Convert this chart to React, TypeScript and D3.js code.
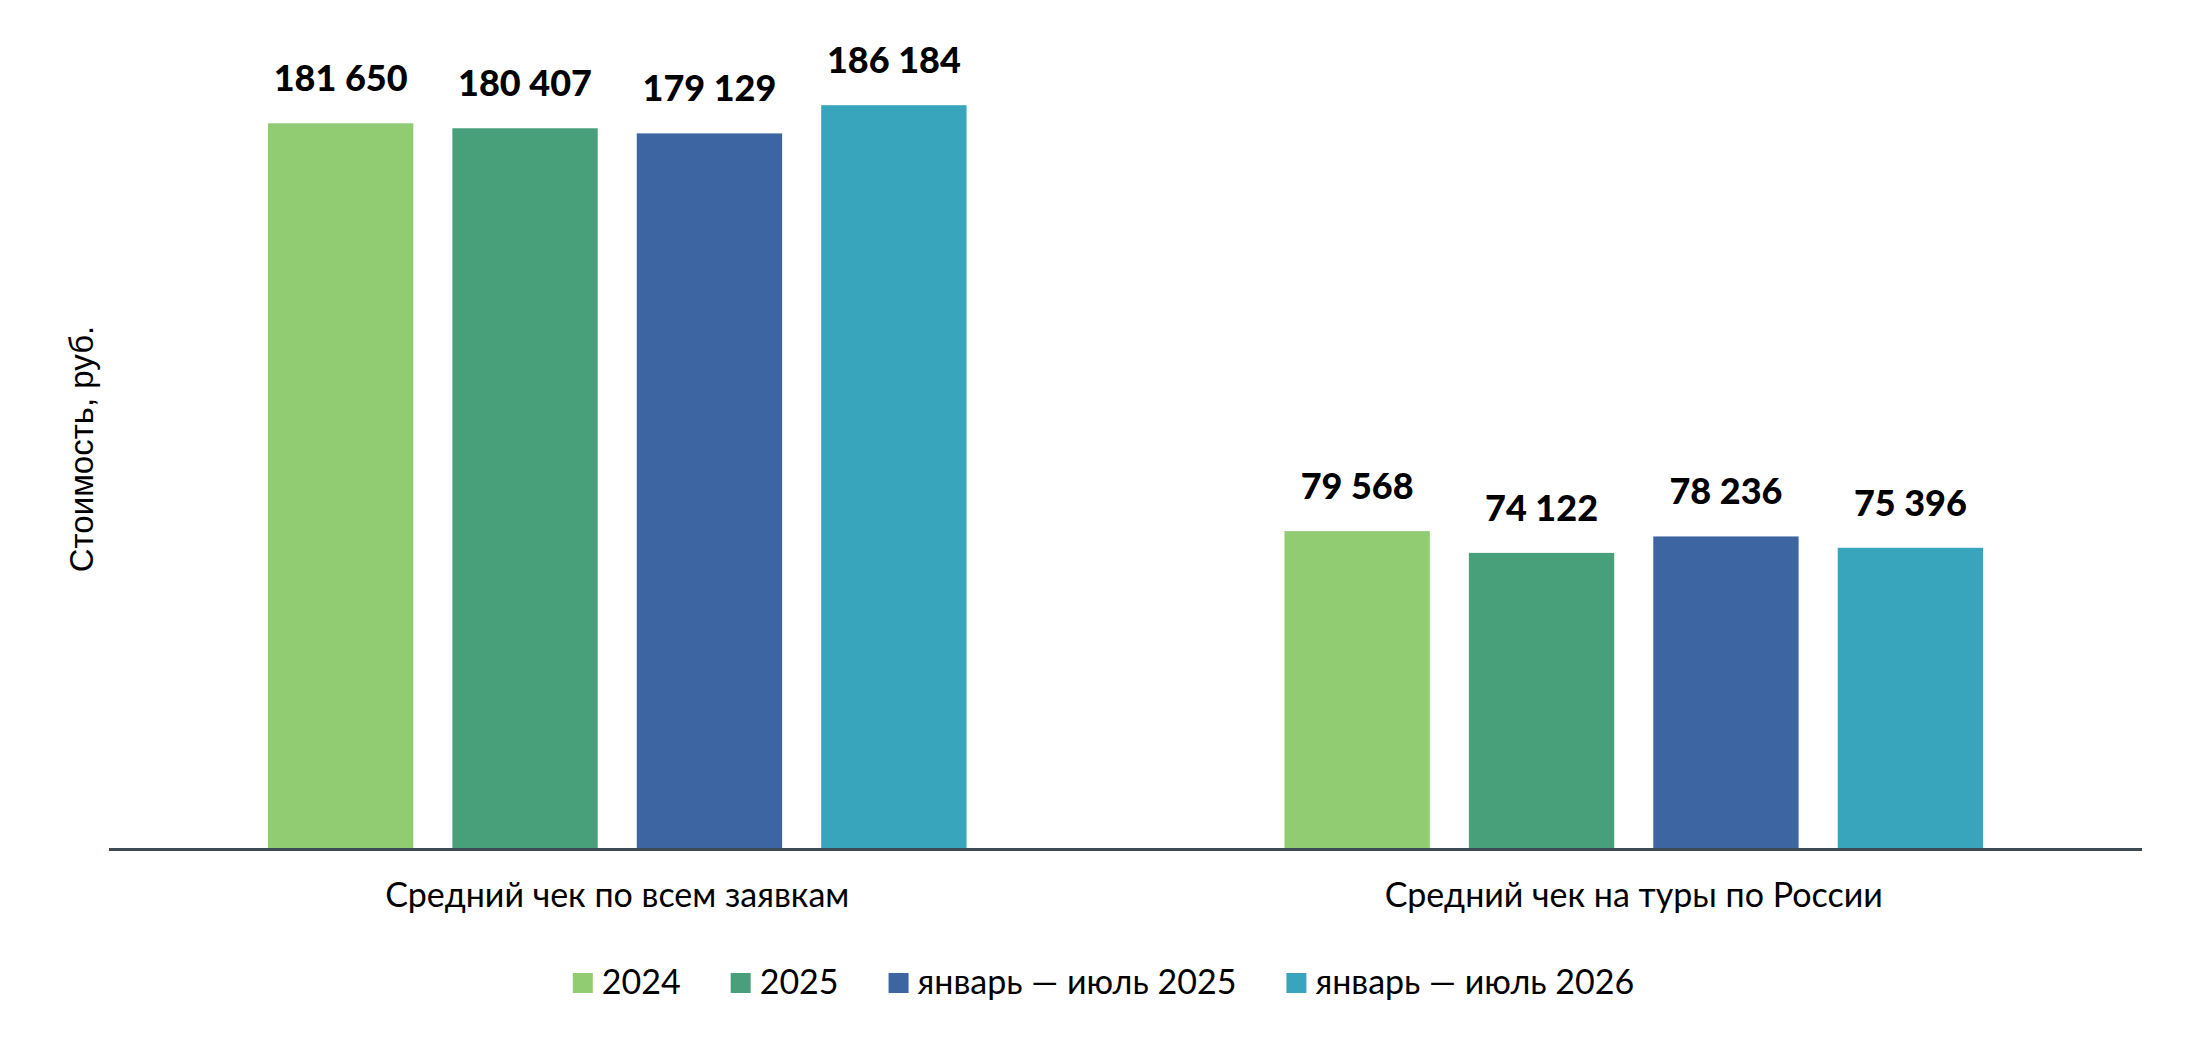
import { useEffect, useRef } from "react";
import * as d3 from "d3";

// ── Data ──────────────────────────────────────────────────────────────────────

const CATEGORIES = ["Средний чек по всем заявкам", "Средний чек на туры по России"];
const SERIES = ["2024", "2025", "январь — июль 2025", "январь — июль 2026"];
const VALUES_ALL = [181650, 180407, 179129, 186184];
const VALUES_RUSSIA = [79568, 74122, 78236, 75396];
const COLORS = ["#92CC72", "#47A07A", "#3D65A1", "#38A5BC"];
const Y_TITLE = "Стоимость, руб.";

const TABLE = [VALUES_ALL, VALUES_RUSSIA];

// ── Layout ────────────────────────────────────────────────────────────────────

const W = 2192;
const H = 1046;
const PLOT = { left: 109, right: 2142, top: 50, bottom: 849 };
const FONT = "Lato, 'Open Sans', sans-serif";

const fmt = d3
  .formatLocale({ decimal: ",", thousands: " ", grouping: [3], currency: ["", ""] })
  .format(",d");

export default function App() {
  const legendRef = useRef<SVGGElement>(null);

  const x0 = d3.scaleBand<string>().domain(CATEGORIES).range([PLOT.left, PLOT.right]);
  const x1 = d3
    .scaleBand<string>()
    .domain(SERIES)
    .range([0, x0.bandwidth()])
    .paddingInner(0.212)
    .paddingOuter(0.862);
  const y = d3.scaleLinear().domain([0, 200000]).range([PLOT.bottom, PLOT.top]);

  /** Legend laid out with measured text widths */
  useEffect(() => {
    if (!legendRef.current) return;
    const g = d3.select(legendRef.current);
    g.selectAll("*").remove();
    const items = g
      .selectAll<SVGGElement, string>("g")
      .data(SERIES)
      .join("g");
    items
      .append("rect")
      .attr("width", 20)
      .attr("height", 20)
      .attr("y", -21)
      .attr("fill", (_, i) => COLORS[i]);
    items
      .append("text")
      .attr("x", 29)
      .attr("font-family", FONT)
      .attr("font-size", 34)
      .attr("fill", "#000")
      .text((d) => d);
    let cx = 0;
    items.each(function () {
      const t = d3.select(this).select<SVGTextElement>("text").node()!;
      d3.select(this).attr("transform", `translate(${cx},0)`);
      cx += 29 + t.getComputedTextLength() + 50;
    });
    const total = cx - 50;
    g.attr("transform", `translate(${1103.5 - total / 2},994)`);
  }, []);

  return (
    <svg
      width={W}
      height={H}
      style={{ position: "fixed", left: 0, top: 0, background: "#fff" }}
    >
      {/* Bars and value labels */}
      {CATEGORIES.map((cat, ci) => (
        <g key={cat} transform={`translate(${x0(cat)},0)`}>
          {SERIES.map((s, si) => {
            const v = TABLE[ci][si];
            const bx = x1(s)!;
            return (
              <g key={s}>
                <rect
                  x={bx}
                  y={y(v)}
                  width={x1.bandwidth()}
                  height={y(0) - y(v)}
                  fill={COLORS[si]}
                />
                <text
                  x={bx + x1.bandwidth() / 2}
                  y={y(v) - 32}
                  textAnchor="middle"
                  fontFamily={FONT}
                  fontWeight={900}
                  fontSize={36}
                  fill="#000"
                >
                  {fmt(v)}
                </text>
              </g>
            );
          })}
          <text
            x={x0.bandwidth() / 2}
            y={907}
            textAnchor="middle"
            fontFamily={FONT}
            fontSize={34}
            fill="#000"
          >
            {cat}
          </text>
        </g>
      ))}

      {/* Category axis line */}
      <line
        x1={PLOT.left}
        x2={PLOT.right}
        y1={y(0) + 0.5}
        y2={y(0) + 0.5}
        stroke="#404A54"
        strokeWidth={3}
      />

      {/* Y axis title */}
      <text
        transform={`translate(93,449) rotate(-90)`}
        textAnchor="middle"
        fontFamily="'Liberation Sans', Arial, sans-serif"
        fontSize={33}
        fill="#000"
      >
        {Y_TITLE}
      </text>

      <g ref={legendRef} />
    </svg>
  );
}
